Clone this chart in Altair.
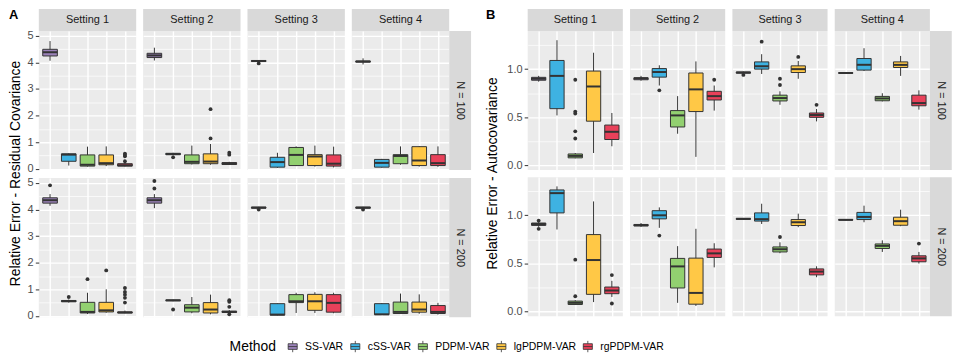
import altair as alt
import pandas as pd

FONT = "Liberation Sans"
METHODS = ["SS-VAR", "cSS-VAR", "PDPM-VAR", "lgPDPM-VAR", "rgPDPM-VAR"]
COLORS = ["#9B82B9", "#3EB2E2", "#92D070", "#FFC846", "#E8415A"]
SETTINGS = ["Setting 1", "Setting 2", "Setting 3", "Setting 4"]
N_LABELS = ["N = 100", "N = 200"]

# ---- Panel A : Relative Error - Residual Covariance ----
# per method: (lower whisker, Q1, median, Q3, upper whisker)
A100_S1 = [(4.06, 4.24, 4.38, 4.49, 4.80), (0.12, 0.28, 0.53, 0.56, 0.58), (0.08, 0.10, 0.15, 0.52, 0.83), (0.10, 0.15, 0.21, 0.52, 0.84), (0.09, 0.10, 0.13, 0.19, 0.23)]
A100_S1_OUT = [[], [], [], [], [0.57, 0.52, 0.47, 0.28]]
A100_S2 = [(4.07, 4.18, 4.26, 4.34, 4.55), (0.50, 0.53, 0.55, 0.58, 0.60), (0.16, 0.19, 0.26, 0.52, 0.87), (0.15, 0.19, 0.27, 0.56, 0.93), (0.15, 0.16, 0.20, 0.23, 0.26)]
A100_S2_OUT = [[], [0.43], [], [1.14, 2.24], [0.60, 0.53]]
A100_S3 = [(4.02, 4.03, 4.05, 4.07, 4.08), (0.03, 0.06, 0.25, 0.43, 0.60), (0.10, 0.12, 0.52, 0.80, 0.84), (0.08, 0.12, 0.46, 0.53, 0.87), (0.05, 0.10, 0.19, 0.52, 0.83)]
A100_S3_OUT = [[3.96], [], [], [], []]
A100_S4 = [(3.92, 4.01, 4.03, 4.05, 4.15), (0.04, 0.06, 0.22, 0.35, 0.37), (0.15, 0.19, 0.48, 0.53, 0.84), (0.08, 0.12, 0.31, 0.83, 0.85), (0.07, 0.12, 0.21, 0.53, 0.84)]
A100_S4_OUT = [[], [], [], [], []]

A200_S1 = [(4.14, 4.24, 4.35, 4.44, 4.58), (0.50, 0.53, 0.56, 0.58, 0.62), (0.07, 0.11, 0.15, 0.51, 0.87), (0.12, 0.15, 0.21, 0.51, 1.00), (0.10, 0.11, 0.13, 0.15, 0.20)]
A200_S1_OUT = [[4.91], [0.71], [1.38], [1.71], [1.05, 0.90, 0.80, 0.68, 0.50]]
A200_S2 = [(4.05, 4.24, 4.35, 4.44, 4.58), (0.55, 0.57, 0.585, 0.60, 0.61), (0.10, 0.15, 0.31, 0.42, 0.71), (0.06, 0.11, 0.24, 0.50, 0.80), (0.10, 0.13, 0.15, 0.18, 0.22)]
A200_S2_OUT = [[5.07, 4.79], [0.24], [], [], [0.59, 0.53, 0.34, 0.06]]
A200_S3 = [(4.04, 4.05, 4.07, 4.09, 4.10), (0.02, 0.03, 0.05, 0.46, 0.47), (0.11, 0.50, 0.55, 0.80, 0.87), (0.11, 0.21, 0.55, 0.81, 0.89), (0.10, 0.14, 0.49, 0.80, 0.87)]
A200_S3_OUT = [[4.00], [], [], [], []]
A200_S4 = [(4.04, 4.05, 4.07, 4.09, 4.10), (0.04, 0.05, 0.06, 0.46, 0.48), (0.08, 0.09, 0.15, 0.52, 0.84), (0.08, 0.14, 0.24, 0.52, 0.81), (0.05, 0.09, 0.15, 0.39, 0.49)]
A200_S4_OUT = [[4.00], [], [], [], []]

# ---- Panel B : Relative Error - Autocovariance ----
B100_S1 = [(0.87, 0.885, 0.90, 0.915, 0.93), (0.52, 0.59, 0.93, 1.09, 1.30), (0.075, 0.08, 0.10, 0.12, 0.13), (0.13, 0.46, 0.82, 0.98, 1.17), (0.20, 0.27, 0.35, 0.42, 0.545)]
B100_S1_OUT = [[], [], [0.89, 0.56, 0.54, 0.355, 0.28], [], []]
B100_S2 = [(0.88, 0.89, 0.905, 0.91, 0.93), (0.83, 0.917, 0.97, 1.006, 1.04), (0.33, 0.40, 0.52, 0.57, 0.72), (0.09, 0.56, 0.79, 0.96, 1.08), (0.57, 0.68, 0.72, 0.77, 0.83)]
B100_S2_OUT = [[], [0.78], [], [], [0.89]]
B100_S3 = [(0.955, 0.958, 0.965, 0.97, 0.975), (0.95, 1.0, 1.03, 1.075, 1.155), (0.63, 0.67, 0.70, 0.73, 0.77), (0.90, 0.965, 1.0, 1.034, 1.085), (0.458, 0.50, 0.524, 0.545, 0.586)]
B100_S3_OUT = [[0.94], [1.285], [0.90, 0.835], [1.127], [0.63]]
B100_S4 = [(0.955, 0.957, 0.96, 0.963, 0.965), (0.98, 0.99, 1.045, 1.11, 1.217), (0.665, 0.672, 0.696, 0.717, 0.75), (0.93, 1.017, 1.044, 1.075, 1.137), (0.58, 0.62, 0.648, 0.73, 0.78)]
B100_S4_OUT = [[], [], [], [], []]

B200_S1 = [(0.88, 0.895, 0.91, 0.92, 0.93), (0.853, 1.025, 1.23, 1.263, 1.30), (0.07, 0.075, 0.092, 0.11, 0.12), (0.10, 0.18, 0.536, 0.80, 1.144), (0.153, 0.187, 0.22, 0.256, 0.32)]
B200_S1_OUT = [[0.945, 0.86], [], [0.54, 0.16], [], [0.38, 0.085]]
B200_S2 = [(0.88, 0.89, 0.897, 0.905, 0.92), (0.87, 0.963, 1.0, 1.048, 1.082), (0.092, 0.246, 0.47, 0.553, 0.68), (0.06, 0.078, 0.195, 0.556, 0.86), (0.46, 0.563, 0.605, 0.65, 0.71)]
B200_S2_OUT = [[], [0.79], [], [], []]
B200_S3 = [(0.955, 0.958, 0.963, 0.968, 0.97), (0.91, 0.94, 0.96, 1.025, 1.12), (0.607, 0.62, 0.648, 0.672, 0.72), (0.877, 0.894, 0.928, 0.956, 1.017), (0.358, 0.382, 0.416, 0.444, 0.471)]
B200_S3_OUT = [[], [], [0.775], [], []]
B200_S4 = [(0.948, 0.95, 0.953, 0.956, 0.958), (0.928, 0.956, 0.983, 1.03, 1.10), (0.62, 0.656, 0.683, 0.703, 0.74), (0.887, 0.897, 0.939, 0.98, 1.058), (0.50, 0.518, 0.553, 0.58, 0.62)]
B200_S4_OUT = [[], [], [], [], [0.707]]

PANEL_A = [[A100_S1, A100_S2, A100_S3, A100_S4], [A200_S1, A200_S2, A200_S3, A200_S4]]
PANEL_A_OUT = [[A100_S1_OUT, A100_S2_OUT, A100_S3_OUT, A100_S4_OUT], [A200_S1_OUT, A200_S2_OUT, A200_S3_OUT, A200_S4_OUT]]
PANEL_B = [[B100_S1, B100_S2, B100_S3, B100_S4], [B200_S1, B200_S2, B200_S3, B200_S4]]
PANEL_B_OUT = [[B100_S1_OUT, B100_S2_OUT, B100_S3_OUT, B100_S4_OUT], [B200_S1_OUT, B200_S2_OUT, B200_S3_OUT, B200_S4_OUT]]

A_TICKS = [0, 0.5, 1, 1.5, 2, 2.5, 3, 3.5, 4, 4.5, 5]
B_TICKS = [0, 0.25, 0.5, 0.75, 1.0, 1.25]
A_DOMAIN = [-0.05, 5.18]
B_DOMAIN = [-0.047, 1.396]

H = 140
STRIP = 22
HALF_BOX = 0.39

LEGEND_PATH = "M-0.8,-0.5H0.8V0.5H-0.8Z M-0.8,0H0.8 M0,-0.5V-1 M0,0.5V1"

cscale = alt.Scale(domain=METHODS, range=COLORS)
LEGEND = alt.Legend(
    orient="none", legendX=222, legendY=311, direction="horizontal",
    title="Method", titleOrient="left", titleFontSize=14, titleFontWeight="normal",
    titleColor="black", titleFont=FONT, titlePadding=10, titleBaseline="middle",
    labelFontSize=10.5, labelColor="black", labelFont=FONT, labelOffset=6,
    columnPadding=5, symbolType=LEGEND_PATH, symbolSize=130,
    symbolStrokeColor="#333333", symbolStrokeWidth=0.8, symbolOpacity=1, padding=0,
)


def cell(stats, outs, si, ni, width, domain, ticks, major_test, label_fmt, first_col, last_col):
    box_df = pd.DataFrame({
        "method": METHODS,
        "idx": [1, 2, 3, 4, 5],
        "lw": [s[0] for s in stats],
        "q1": [s[1] for s in stats],
        "med": [s[2] for s in stats],
        "q3": [s[3] for s in stats],
        "uw": [s[4] for s in stats],
    })
    o_m, o_i, o_v = [], [], []
    for k, lst in enumerate(outs):
        for v in lst:
            o_m.append(METHODS[k]); o_i.append(k + 1); o_v.append(v)
    out_df = pd.DataFrame({"method": o_m, "idx": o_i, "v": o_v})

    xs = alt.Scale(domain=[0.4, 5.6], nice=False, zero=False)
    ys = alt.Scale(domain=domain, nice=False, zero=False)
    xaxis = alt.Axis(values=[1, 2, 3, 4, 5], labels=False, ticks=False, domain=False,
                     grid=True, gridColor="white", gridWidth=1.4, title=None)
    gw = {"condition": {"test": major_test, "value": 1.4}, "value": 0.7}
    if first_col:
        yaxis = alt.Axis(values=ticks, grid=True, gridColor="white", gridWidth=gw,
                         domain=False, ticks=True, tickSize=3.5, tickColor="#333333", tickWidth=1,
                         tickOpacity={"condition": {"test": major_test, "value": 1}, "value": 0},
                         labelExpr=f"({major_test}) ? format(datum.value, '{label_fmt}') : ''",
                         labelPadding=2.2, labelColor="#4D4D4D", labelFontSize=11, labelFont=FONT,
                         labelFlush=False, labelOverlap=False, labelBound=False, title=None)
    else:
        yaxis = alt.Axis(values=ticks, grid=True, gridColor="white", gridWidth=gw,
                         domain=False, ticks=False, labels=False, title=None)

    base = alt.Chart(box_df)
    calc = {"xl": f"datum.idx - {HALF_BOX}", "xr": f"datum.idx + {HALF_BOX}"}
    whisk = base.mark_rule(color="#333333", strokeWidth=1).encode(
        x=alt.X("idx:Q", scale=xs, axis=xaxis),
        y=alt.Y("lw:Q", scale=ys, axis=yaxis), y2="uw:Q")
    box = base.transform_calculate(**calc).mark_rect(stroke="#333333", strokeWidth=1, opacity=1).encode(
        x=alt.X("xl:Q", scale=xs, axis=xaxis), x2="xr:Q",
        y=alt.Y("q1:Q", scale=ys, axis=yaxis), y2="q3:Q",
        color=alt.Color("method:N", scale=cscale, legend=LEGEND))
    med = base.transform_calculate(**calc).mark_rule(color="#333333", strokeWidth=2).encode(
        x=alt.X("xl:Q", scale=xs, axis=xaxis), x2="xr:Q",
        y=alt.Y("med:Q", scale=ys, axis=yaxis))
    layers = [whisk, box, med]
    if len(out_df):
        layers.append(alt.Chart(out_df).mark_circle(color="#333333", size=15, opacity=1).encode(
            x=alt.X("idx:Q", scale=xs, axis=xaxis),
            y=alt.Y("v:Q", scale=ys, axis=yaxis)))
    one = pd.DataFrame({"k": [0]})
    if ni == 0:
        layers.append(alt.Chart(one).mark_rect(color="#D9D9D9").encode(
            x=alt.value(0), x2=alt.value(width), y=alt.value(-STRIP), y2=alt.value(0)))
        layers.append(alt.Chart(one).mark_text(font=FONT, fontSize=11, color="#1A1A1A",
                                               align="center", baseline="middle").encode(
            x=alt.value(width / 2), y=alt.value(-STRIP / 2), text=alt.value(SETTINGS[si])))
    if last_col:
        layers.append(alt.Chart(one).mark_rect(color="#D9D9D9").encode(
            x=alt.value(width), x2=alt.value(width + STRIP), y=alt.value(0), y2=alt.value(H)))
        layers.append(alt.Chart(one).mark_text(font=FONT, fontSize=11, color="#1A1A1A", angle=90,
                                               align="center", baseline="middle").encode(
            x=alt.value(width + STRIP / 2), y=alt.value(H / 2), text=alt.value(N_LABELS[ni])))
    return alt.layer(*layers).properties(
        width=width, height=H, view=alt.ViewBackground(fill="#EBEBEB", stroke=None))


def panel(data, outs, letter, ytitle, width, domain, ticks, major_test, label_fmt, sp, row_sp):
    rows = []
    for ni in range(2):
        cells = [cell(data[ni][si], outs[ni][si], si, ni, width, domain, ticks, major_test, label_fmt,
                      si == 0, si == 3) for si in range(4)]
        rows.append(alt.hconcat(*cells, spacing=7))
    grid = alt.vconcat(*rows, spacing=row_sp)
    one = pd.DataFrame({"k": [0]})
    lab = alt.Chart(one).mark_text(font=FONT, fontSize=13, fontWeight="bold", color="black",
                                   align="left", baseline="top").encode(
        x=alt.value(0), y=alt.value(-STRIP), text=alt.value(letter))
    ttl = alt.Chart(one).mark_text(font=FONT, fontSize=14, color="black", angle=270,
                                   align="center", baseline="middle").encode(
        x=alt.value(7), y=alt.value(H + 3.5), text=alt.value(ytitle))
    side = alt.layer(lab, ttl).properties(width=14, height=2 * H + 7)
    return alt.hconcat(side, grid, spacing=sp)


pA = panel(PANEL_A, PANEL_A_OUT, "A", "Relative Error - Residual Covariance", 98, A_DOMAIN, A_TICKS,
           "datum.value % 1 === 0", "d", 3, 2.1)
pB = panel(PANEL_B, PANEL_B_OUT, "B", "Relative Error - Autocovariance", 95.75, B_DOMAIN, B_TICKS,
           "(datum.value * 4) % 2 === 0", ".1f", 6, 6.1)

chart = alt.hconcat(pA, pB, spacing=14).properties(padding=0, background="white").configure(
    font=FONT).configure_view(stroke=None)

chart.save("out.html", embed_options={"renderer": "svg", "actions": False})
